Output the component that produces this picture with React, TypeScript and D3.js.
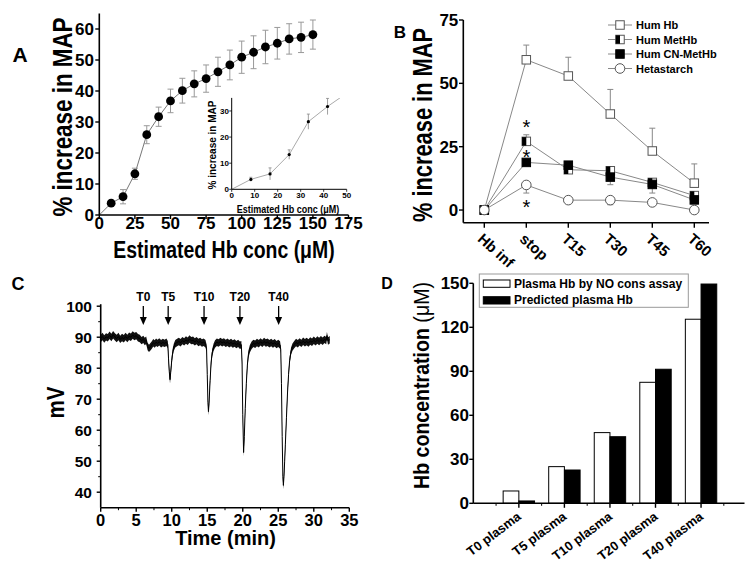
import React from 'react';
import * as d3 from 'd3';

const FONT = '"Liberation Sans", Arial, Helvetica, sans-serif';

// ---------------- Panel A data ----------------
const aConc = [8.33, 16.67, 25, 33.33, 41.67, 50, 58.33, 66.67, 75, 83.33, 91.67, 100, 108.33, 116.67, 125, 133.33, 141.67, 150];
const aMap = [3.8, 5.9, 13.3, 25.9, 31.7, 36.8, 40.1, 42.3, 44.0, 46.2, 48.4, 50.9, 52.5, 54.2, 55.4, 56.8, 57.3, 58.2];
const aErr = [0.8, 2.3, 1.8, 2.9, 3.1, 3.8, 4.0, 4.2, 4.4, 4.7, 4.8, 5.2, 5.3, 5.4, 5.1, 4.9, 4.9, 4.7];
const aOrigin: [number, number] = [0, 0];
const aXTicks = [0, 25, 50, 75, 100, 125, 150, 175];
const aYTicks = [0, 10, 20, 30, 40, 50, 60];
const insetXTicks = [0, 10, 20, 30, 40, 50];
const insetYTicks = [0, 10, 20, 30];

// ---------------- Panel B data ----------------
const bTimes = ['Hb inf', 'stop', 'T15', 'T30', 'T45', 'T60'];
const bHumHb = [0, 59.3, 52.9, 37.9, 23.3, 10.6];
const bHumHbErr = [0, 5.8, 7.4, 9.7, 9.0, 7.6];
const bMetHb = [0, 27.1, 15.9, 15.5, 10.9, 5.7];
const bMetHbErr = [0, 2.6, 1.0, 1.2, 1.0, 1.0];
const bCnMetHb = [0, 18.8, 17.7, 13.0, 10.1, 4.0];
const bCnMetHbErr = [0, 1.2, 1.0, 3.0, 3.4, 1.5];
const bHeta = [0, 9.9, 3.9, 3.9, 3.0, 0];
const bHetaErr = [0, 3.2, 0.8, 1.8, 0.8, 1.0];
const bYTicks = [0, 25, 50, 75];
const bStars = [34.2, 22.4, 2.6];

// ---------------- Panel C data ----------------
const cTrace: [number, number][] = [
  [0, 89.6], [0.25, 90.2], [0.5, 89.4], [0.75, 90.1], [1, 89.8], [1.25, 90.6], [1.5, 89.9], [1.75, 90.8], [2, 90.1], [2.25, 89.6],
  [2.5, 90.2], [2.75, 89.3], [3, 89.9], [3.25, 89.5], [3.5, 90.2], [3.75, 89.6], [4, 90.3], [4.25, 90.0], [4.5, 90.7], [4.75, 90.2],
  [5, 90.5], [5.25, 89.8], [5.5, 89.6], [5.75, 88.9], [6, 89.3], [6.2, 88.6], [6.4, 89.0], [6.6, 87.0], [6.8, 86.4], [7.0, 86.9],
  [7.2, 87.5], [7.4, 88.2], [7.6, 87.8], [7.8, 88.4], [8.0, 88.0], [8.25, 88.5], [8.5, 87.9], [8.75, 88.3], [9.0, 88.0], [9.25, 88.4],
  [9.45, 87.6], [9.55, 83], [9.65, 79], [9.76, 76.3], [9.85, 78.5], [10.0, 82.5], [10.15, 85.3], [10.3, 86.8], [10.5, 87.9], [10.75, 88.3],
  [11, 88.6], [11.25, 88.2], [11.5, 88.9], [11.75, 88.5], [12, 89.1], [12.25, 88.7], [12.5, 89.4], [12.75, 88.9], [13, 89.0], [13.25, 88.5],
  [13.5, 88.9], [13.75, 88.3], [14, 88.6], [14.25, 88.1], [14.5, 88.4], [14.75, 87.9], [14.9, 86.5], [15.0, 78], [15.1, 69], [15.17, 66],
  [15.25, 68.5], [15.4, 76], [15.55, 82], [15.7, 85], [15.9, 86.8], [16.1, 87.8], [16.35, 88.4], [16.6, 88.1], [16.85, 88.6], [17.1, 88.2],
  [17.35, 88.5], [17.6, 88.0], [17.85, 88.4], [18.1, 87.9], [18.35, 88.3], [18.6, 87.8], [18.85, 88.1], [19.1, 87.6], [19.35, 88.0], [19.6, 87.4],
  [19.8, 87.6], [19.9, 82], [20.0, 65], [20.12, 52.8], [20.22, 58], [20.35, 67], [20.5, 75], [20.65, 81], [20.8, 84.5], [21.0, 86.3],
  [21.25, 87.4], [21.5, 88.0], [21.75, 87.7], [22, 88.3], [22.25, 87.9], [22.5, 88.5], [22.75, 88.0], [23, 88.6], [23.25, 88.1], [23.5, 88.4],
  [23.75, 87.9], [24, 88.3], [24.25, 87.8], [24.5, 88.2], [24.75, 87.6], [25, 88.0], [25.25, 87.5], [25.35, 86], [25.45, 75], [25.55, 58],
  [25.65, 45], [25.72, 42.2], [25.8, 45], [25.9, 50], [26.0, 55.5], [26.15, 64], [26.3, 72], [26.45, 78], [26.6, 82.5], [26.8, 85.5],
  [27.0, 86.8], [27.25, 87.6], [27.5, 88.3], [27.75, 87.9], [28, 88.5], [28.25, 88.0], [28.5, 88.7], [28.75, 88.2], [29, 88.6], [29.25, 88.1],
  [29.5, 88.8], [29.75, 88.4], [30, 89.0], [30.25, 88.5], [30.5, 89.1], [30.75, 88.6], [31, 89.2], [31.25, 88.7], [31.5, 89.3], [31.75, 88.9],
  [31.85, 90.5], [32, 88.8], [32.25, 89.2],
];
const cEvents = ['T0', 'T5', 'T10', 'T20', 'T40'];
const cEventTimes = [6.0, 9.5, 14.55, 19.6, 25.05];
const cXTicks = [0, 5, 10, 15, 20, 25, 30, 35];
const cYTicks = [40, 50, 60, 70, 80, 90, 100];

// ---------------- Panel D data ----------------
const dCats = ['T0 plasma', 'T5 plasma', 'T10 plasma', 'T20 plasma', 'T40 plasma'];
const dAssay = [8.4, 25.0, 48.2, 82.5, 125.5];
const dPredicted = [1.6, 22.7, 45.4, 91.4, 149.5];
const dYTicks = [0, 30, 60, 90, 120, 150];

type TxtProps = {
  x: number; y: number; size: number; children: React.ReactNode;
  anchor?: string; rotate?: number; sx?: number; weight?: string | number; fill?: string;
};
const Txt = ({ x, y, size, children, anchor = 'middle', rotate = 0, sx = 1, weight = 'bold', fill = '#000' }: TxtProps) => (
  <text
    x={0}
    y={0}
    transform={`translate(${x},${y}) rotate(${rotate})${sx !== 1 ? ` scale(${sx},1)` : ''}`}
    fontSize={size}
    fontWeight={weight}
    fontFamily={FONT}
    textAnchor={anchor}
    fill={fill}
  >
    {children}
  </text>
);

function PanelA() {
  const x = d3.scaleLinear().domain([0, 175]).range([99.3, 348.5]);
  const y = d3.scaleLinear().domain([0, 65]).range([215, 13.5]);
  const pts: [number, number][] = aConc.map((c, i) => [c, aMap[i]]);
  const line = d3.line<[number, number]>().x(d => x(d[0])).y(d => y(d[1]));

  const ix = d3.scaleLinear().domain([0, 50]).range([231.7, 346.7]);
  const iy = d3.scaleLinear().domain([0, 35]).range([189.3, 97.9]);
  const iline = d3.line<[number, number]>().x(d => ix(d[0])).y(d => iy(d[1]));
  const insetPts = pts.filter(p => p[0] <= 50);

  return (
    <g>
      <Txt x={20} y={62} size={21} anchor="middle">A</Txt>
      <path d={line([aOrigin, ...pts]) || ''} fill="none" stroke="#777" strokeWidth={1} />
      {pts.map((p, i) => (
        <g key={i} stroke="#999" strokeWidth={1}>
          <line x1={x(p[0])} x2={x(p[0])} y1={y(p[1] - aErr[i])} y2={y(p[1] + aErr[i])} />
          <line x1={x(p[0]) - 3} x2={x(p[0]) + 3} y1={y(p[1] - aErr[i])} y2={y(p[1] - aErr[i])} />
          <line x1={x(p[0]) - 3} x2={x(p[0]) + 3} y1={y(p[1] + aErr[i])} y2={y(p[1] + aErr[i])} />
        </g>
      ))}
      {pts.map((p, i) => (
        <circle key={i} cx={x(p[0])} cy={y(p[1])} r={4.4} fill="#000" />
      ))}
      <line x1={x(0)} x2={x(0)} y1={y(0)} y2={y(65)} stroke="#000" strokeWidth={1.6} />
      <line x1={x(0)} x2={x(175)} y1={y(0)} y2={y(0)} stroke="#000" strokeWidth={1.6} />
      {aYTicks.map(t => (
        <g key={t}>
          <line x1={x(0) - 4} x2={x(0)} y1={y(t)} y2={y(t)} stroke="#000" strokeWidth={1.4} />
          <Txt x={94} y={y(t) + 6} size={17} anchor="end">{t}</Txt>
        </g>
      ))}
      {aXTicks.map(t => (
        <g key={t}>
          <line x1={x(t)} x2={x(t)} y1={y(0)} y2={y(0) + 4} stroke="#000" strokeWidth={1.4} />
          <Txt x={x(t)} y={228.5} size={17}>{t}</Txt>
        </g>
      ))}
      <Txt x={72} y={117} size={28} rotate={-90} sx={0.8}>% increase in MAP</Txt>
      <Txt x={224} y={257.5} size={24} sx={0.81}>Estimated Hb conc (μM)</Txt>

      <defs>
        <clipPath id="insetClip">
          <rect x={ix(0)} y={iy(35)} width={ix(50) - ix(0)} height={iy(0) - iy(35)} />
        </clipPath>
      </defs>
      <g clipPath="url(#insetClip)">
        <path d={iline([aOrigin, ...insetPts]) || ''} fill="none" stroke="#aaa" strokeWidth={1} />
      </g>
      {insetPts.filter(p => p[1] <= 35).map((p, i) => (
        <g key={i}>
          <line x1={ix(p[0])} x2={ix(p[0])} y1={iy(p[1] - aErr[i])} y2={iy(p[1] + aErr[i])} stroke="#888" strokeWidth={0.8} />
          <line x1={ix(p[0]) - 1.5} x2={ix(p[0]) + 1.5} y1={iy(p[1] + aErr[i])} y2={iy(p[1] + aErr[i])} stroke="#888" strokeWidth={0.8} />
          <circle cx={ix(p[0])} cy={iy(p[1])} r={1.6} fill="#000" />
        </g>
      ))}
      <line x1={ix(0)} x2={ix(0)} y1={iy(0)} y2={iy(35)} stroke="#000" strokeWidth={1} />
      <line x1={ix(0)} x2={ix(50)} y1={iy(0)} y2={iy(0)} stroke="#000" strokeWidth={1} />
      {insetXTicks.map(t => (
        <g key={t}>
          <line x1={ix(t)} x2={ix(t)} y1={iy(0)} y2={iy(0) + 2.5} stroke="#000" strokeWidth={0.8} />
          <Txt x={ix(t)} y={197.5} size={8}>{t}</Txt>
        </g>
      ))}
      {insetYTicks.map(t => (
        <g key={t}>
          <line x1={ix(0) - 2.5} x2={ix(0)} y1={iy(t)} y2={iy(t)} stroke="#000" strokeWidth={0.8} />
          <Txt x={229} y={iy(t) + 3} size={8} anchor="end">{t}</Txt>
        </g>
      ))}
      <Txt x={215.5} y={145} size={10} rotate={-90}>% increase in MAP</Txt>
      <Txt x={288} y={212.5} size={10} sx={0.9}>Estimated Hb conc (μM)</Txt>
    </g>
  );
}

type MType = 'open' | 'half' | 'filled' | 'circle';
function BMarker({ type, x, y }: { type: MType; x: number; y: number }) {
  const s = 8.5;
  if (type === 'circle') return <circle cx={x} cy={y} r={4.8} fill="#fff" stroke="#555" strokeWidth={1} />;
  if (type === 'open') return <rect x={x - s / 2} y={y - s / 2} width={s} height={s} fill="#fff" stroke="#555" strokeWidth={1} />;
  if (type === 'filled') return <rect x={x - s / 2} y={y - s / 2} width={s} height={s} fill="#000" stroke="#000" strokeWidth={1} />;
  return (
    <g>
      <rect x={x - s / 2} y={y - s / 2} width={s} height={s} fill="#fff" stroke="#555" strokeWidth={1} />
      <rect x={x - s / 2} y={y - s / 2} width={s / 2} height={s} fill="#000" />
    </g>
  );
}

function PanelB() {
  const x = d3.scaleLinear().domain([0, 5]).range([484.3, 694.3]);
  const y = d3.scaleLinear().domain([-5, 75]).range([222.7, 20]);
  const series: { name: string; vals: number[]; err: number[]; dir: number; type: MType }[] = [
    { name: 'Hum Hb', vals: bHumHb, err: bHumHbErr, dir: 1, type: 'open' },
    { name: 'Hum MetHb', vals: bMetHb, err: bMetHbErr, dir: 1, type: 'half' },
    { name: 'Hum CN-MetHb', vals: bCnMetHb, err: bCnMetHbErr, dir: -1, type: 'filled' },
    { name: 'Hetastarch', vals: bHeta, err: bHetaErr, dir: -1, type: 'circle' },
  ];
  const line = d3.line<number>().x((_, i) => x(i)).y(d => y(d));
  return (
    <g>
      <Txt x={400} y={38} size={17}>B</Txt>
      {series.map(s => (
        <path key={s.name} d={line(s.vals) || ''} fill="none" stroke="#888" strokeWidth={1} />
      ))}
      {series.map(s => (
        <g key={s.name + 'e'} stroke="#888" strokeWidth={1}>
          {s.vals.map((v, i) =>
            s.err[i] > 0 ? (
              <g key={i}>
                <line x1={x(i)} x2={x(i)} y1={y(v)} y2={y(v + s.dir * s.err[i])} />
                <line x1={x(i) - 3} x2={x(i) + 3} y1={y(v + s.dir * s.err[i])} y2={y(v + s.dir * s.err[i])} />
              </g>
            ) : null
          )}
        </g>
      ))}
      {series.map(s => (
        <g key={s.name + 'm'}>
          {s.vals.map((v, i) => <BMarker key={i} type={s.type} x={x(i)} y={y(v)} />)}
        </g>
      ))}
      {bStars.map((v, i) => (
        <Txt key={i} x={x(1)} y={y(v) + 11} size={20} weight="normal">*</Txt>
      ))}
      <line x1={463.3} x2={463.3} y1={y(-5)} y2={y(75)} stroke="#000" strokeWidth={1.6} />
      <line x1={463.3} x2={709} y1={y(-5)} y2={y(-5)} stroke="#000" strokeWidth={1.6} />
      {bYTicks.map(t => (
        <g key={t}>
          <line x1={459} x2={463.3} y1={y(t)} y2={y(t)} stroke="#000" strokeWidth={1.4} />
          <Txt x={458.3} y={y(t) + 6} size={17} anchor="end">{t}</Txt>
        </g>
      ))}
      {bTimes.map((t, i) => (
        <g key={t}>
          <line x1={x(i)} x2={x(i)} y1={y(-5)} y2={y(-5) + 5} stroke="#000" strokeWidth={1.4} />
          <Txt x={x(i) - 7.5} y={y(-5) + 17.5} size={15} anchor="start" rotate={42}>{t}</Txt>
        </g>
      ))}
      <Txt x={431.5} y={125} size={28} rotate={-90} sx={0.78}>% increase in MAP</Txt>
      {series.map((s, i) => {
        const ly = 25 + i * 14.5;
        return (
          <g key={s.name + 'l'}>
            <line x1={608} x2={632} y1={ly} y2={ly} stroke="#888" strokeWidth={1} />
            <BMarker type={s.type} x={620} y={ly} />
            <Txt x={636} y={ly + 4} size={11} anchor="start">{s.name}</Txt>
          </g>
        );
      })}
    </g>
  );
}

function PanelC() {
  const x = d3.scaleLinear().domain([0, 35]).range([100.7, 349.3]);
  const y = d3.scaleLinear().domain([35, 100]).range([507.7, 306.2]);
  const band = d3.area<[number, number]>().x(d => x(d[0])).y0(d => y(d[1] - 1.2)).y1(d => y(d[1] + 1.2));
  const line = d3.line<[number, number]>().x(d => x(d[0])).y(d => y(d[1]));
  const minor = d3.range(2.5, 35, 5);
  const yMinor = d3.range(45, 100, 10);
  return (
    <g>
      <Txt x={18} y={290} size={18}>C</Txt>
      <path d={band(cTrace) || ''} fill="#111" stroke="none" />
      <path d={line(cTrace) || ''} fill="none" stroke="#000" strokeWidth={1} />
      {cEvents.map((e, i) => {
        const ex = x(cEventTimes[i]);
        return (
          <g key={e}>
            <Txt x={ex} y={300.5} size={12}>{e}</Txt>
            <line x1={ex} x2={ex} y1={306} y2={318} stroke="#000" strokeWidth={1.3} />
            <path d={`M${ex - 3.5},317 L${ex + 3.5},317 L${ex},325 Z`} fill="#000" />
          </g>
        );
      })}
      <line x1={x(0)} x2={x(0)} y1={y(35)} y2={y(100) - 2} stroke="#000" strokeWidth={1.6} />
      <line x1={x(0)} x2={x(35)} y1={y(35)} y2={y(35)} stroke="#000" strokeWidth={1.6} />
      {cYTicks.map(t => (
        <g key={t}>
          <line x1={x(0) - 4} x2={x(0)} y1={y(t)} y2={y(t)} stroke="#000" strokeWidth={1.4} />
          <Txt x={92} y={y(t) + 5.5} size={15.5} anchor="end">{t}</Txt>
        </g>
      ))}
      {yMinor.map(t => (
        <line key={t} x1={x(0) - 2.5} x2={x(0)} y1={y(t)} y2={y(t)} stroke="#000" strokeWidth={1} />
      ))}
      {cXTicks.map(t => (
        <g key={t}>
          <line x1={x(t)} x2={x(t)} y1={y(35)} y2={y(35) + 4} stroke="#000" strokeWidth={1.4} />
          <Txt x={x(t)} y={526} size={16.5}>{t}</Txt>
        </g>
      ))}
      {minor.map(t => (
        <line key={t} x1={x(t)} x2={x(t)} y1={y(35)} y2={y(35) + 2.5} stroke="#000" strokeWidth={1} />
      ))}
      <Txt x={64} y={402.5} size={24} rotate={-90} sx={0.86}>mV</Txt>
      <Txt x={225.5} y={545} size={20}>Time (min)</Txt>
    </g>
  );
}

function PanelD() {
  const x = d3.scaleLinear().domain([-1, 5]).range([473.3, 746.6]);
  const y = d3.scaleLinear().domain([0, 150]).range([503.3, 283.3]);
  const bw = 15.7;
  const minor = d3.range(-0.5, 5, 1);
  return (
    <g>
      <Txt x={387} y={289} size={16}>D</Txt>
      {dAssay.map((v, i) => (
        <rect key={'a' + i} x={x(i) - bw} y={y(v)} width={bw} height={y(0) - y(v)} fill="#fff" stroke="#000" strokeWidth={1} />
      ))}
      {dPredicted.map((v, i) => (
        <rect key={'p' + i} x={x(i)} y={y(v)} width={bw} height={y(0) - y(v)} fill="#000" stroke="#000" strokeWidth={1} />
      ))}
      <line x1={x(-1)} x2={x(-1)} y1={y(0)} y2={y(150)} stroke="#000" strokeWidth={1.6} />
      <line x1={x(-1)} x2={744.5} y1={y(0)} y2={y(0)} stroke="#000" strokeWidth={1.6} />
      {dYTicks.map(t => (
        <g key={t}>
          <line x1={x(-1) - 4} x2={x(-1)} y1={y(t)} y2={y(t)} stroke="#000" strokeWidth={1.4} />
          <Txt x={469} y={y(t) + 6} size={17} anchor="end">{t}</Txt>
        </g>
      ))}
      {dCats.map((c, i) => (
        <g key={c}>
          <line x1={x(i)} x2={x(i)} y1={y(0)} y2={y(0) + 4.5} stroke="#000" strokeWidth={1.4} />
          <Txt x={x(i) + 3} y={y(0) + 15} size={13} anchor="end" rotate={-37}>{c}</Txt>
        </g>
      ))}
      {minor.map(t => (
        <line key={t} x1={x(t)} x2={x(t)} y1={y(0)} y2={y(0) + 2.5} stroke="#000" strokeWidth={1} />
      ))}
      <Txt x={429} y={385.5} size={22} rotate={-90} sx={0.89}>
        Hb concentration <tspan fontWeight="normal">(μM)</tspan>
      </Txt>
      <rect x={479.3} y={274} width={209} height={33.3} fill="#fff" stroke="#999" strokeWidth={1} />
      <rect x={483.3} y={280} width={26.7} height={7.3} fill="#fff" stroke="#000" strokeWidth={1} />
      <rect x={483.3} y={296.7} width={26.7} height={7.3} fill="#000" stroke="#000" strokeWidth={1} />
      <Txt x={514} y={287.8} size={12} anchor="start">Plasma Hb by NO cons assay</Txt>
      <Txt x={514} y={304.3} size={12} anchor="start">Predicted plasma Hb</Txt>
    </g>
  );
}

export default function App() {
  return (
    <svg
      width={750}
      height={563}
      viewBox="0 0 750 563"
      style={{ position: 'absolute', left: 0, top: 0, background: '#fff' }}
    >
      <rect x={0} y={0} width={750} height={563} fill="#fff" />
      <PanelA />
      <PanelB />
      <PanelC />
      <PanelD />
    </svg>
  );
}
